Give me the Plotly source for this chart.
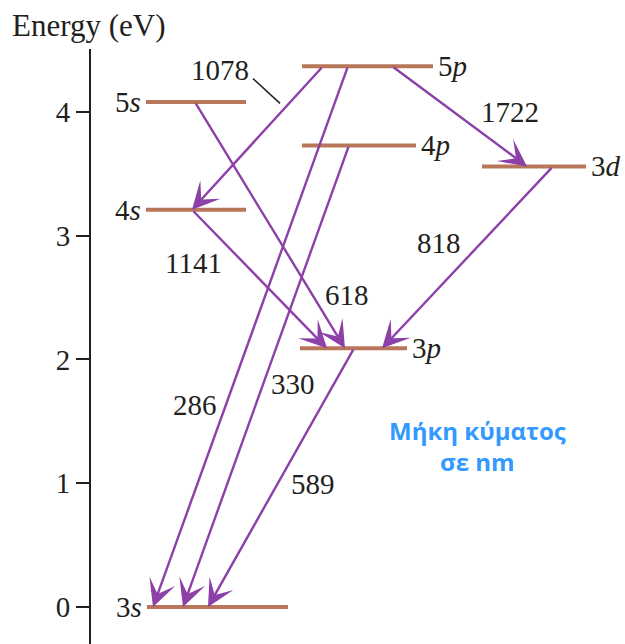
import plotly.graph_objects as go

# Sodium energy levels (eV)
level_names = ["3s", "3p", "4s", "5s", "4p", "3d", "5p"]
level_energy = [0.00, 2.09, 3.21, 4.08, 3.73, 3.56, 4.37]

# Transitions: upper level, lower level, wavelength (nm)
trans_upper = ["5p", "5p", "4p", "5p", "3d", "5s", "4s", "3p"]
trans_lower = ["4s", "3s", "3s", "3d", "3p", "3p", "3p", "3s"]
trans_wavelength = ["1078", "286", "330", "1722", "818", "618", "1141", "589"]

energy_ticks = [0, 1, 2, 3, 4]

# ---- drawing layout (horizontal positions in plot units, styles) ----
level_span = {
    "3s": (147, 288, "left"),
    "3p": (300, 407, "right"),
    "4s": (146, 246, "left"),
    "5s": (146, 246, "left"),
    "4p": (302, 416, "right"),
    "3d": (482, 586, "right"),
    "5p": (302, 433, "right"),
}
# x where each arrow leaves the upper level and lands on the lower level
arrow_x = [(323, 192), (348, 153), (349, 183), (392, 527),
           (553, 382), (195, 345), (192, 327), (354, 208)]
# wavelength label positions (x, energy)
label_pos = [(220, 4.34), (195, 1.63), (293, 1.80), (510, 4.00),
             (439, 2.94), (347, 2.52), (193, 2.78), (313, 0.99)]

LEVEL_COLOR = "#b8765a"
ARROW_COLOR = "#8c40a8"
INK = "#231f20"
SERIF = "Liberation Serif, Times New Roman, serif"

E = dict(zip(level_names, level_energy))

fig = go.Figure()

# horizontal level bars
for name in level_names:
    x0, x1, _ = level_span[name]
    fig.add_trace(go.Scatter(
        x=[x0, x1], y=[E[name], E[name]], mode="lines",
        line=dict(color=LEVEL_COLOR, width=4), hoverinfo="skip",
        showlegend=False))

annotations = []

# level names, n in roman, l in italics
for name in level_names:
    x0, x1, side = level_span[name]
    txt = f"{name[0]}<i>{name[1]}</i>"
    if side == "left":
        annotations.append(dict(x=x0 - 3, y=E[name], text=txt, xanchor="right",
                                yanchor="middle", showarrow=False,
                                font=dict(family=SERIF, size=29, color=INK)))
    else:
        annotations.append(dict(x=x1 + 3, y=E[name], text=txt, xanchor="left",
                                yanchor="middle", showarrow=False,
                                font=dict(family=SERIF, size=29, color=INK)))

# transition arrows
for up, lo, (xs, xe) in zip(trans_upper, trans_lower, arrow_x):
    annotations.append(dict(
        x=xe, y=E[lo], ax=xs, ay=E[up], xref="x", yref="y",
        axref="x", ayref="y", text="", showarrow=True,
        arrowhead=3, arrowsize=1.9, arrowwidth=2.4,
        arrowcolor=ARROW_COLOR, standoff=0, startstandoff=0))

# wavelength labels
for wl, (lx, ly) in zip(trans_wavelength, label_pos):
    annotations.append(dict(x=lx, y=ly, text=wl, showarrow=False,
                            xanchor="center", yanchor="middle",
                            font=dict(family=SERIF, size=29, color=INK)))

# axis title, placed above the energy axis
annotations.append(dict(x=-0.152, y=1.040, xref="paper", yref="paper",
                        text="Energy (eV)", showarrow=False,
                        xanchor="left", yanchor="middle",
                        font=dict(family=SERIF, size=31, color=INK)))

# note on the units of the labels
annotations.append(dict(x=477, y=1.30, text="<b>Μήκη κύματος<br>σε nm</b>",
                        showarrow=False, xanchor="center", yanchor="middle",
                        align="center",
                        font=dict(family="Open Sans, sans-serif", size=24,
                                  color="#3399ff")))

# leader line for the 1078 label
shapes = [dict(type="line", x0=253, y0=4.27, x1=280, y1=4.07,
               xref="x", yref="y", line=dict(color=INK, width=1.5))]

fig.update_layout(
    width=625, height=644,
    margin=dict(l=91, r=0, t=49, b=0),
    paper_bgcolor="white", plot_bgcolor="white",
    annotations=annotations, shapes=shapes,
    xaxis=dict(range=[91, 625], visible=False, fixedrange=True),
    yaxis=dict(range=[-0.299, 4.509], tickvals=energy_ticks,
               ticks="outside", ticklen=13, tickwidth=2, tickcolor=INK,
               showline=True, linewidth=2, linecolor=INK,
               showgrid=False, zeroline=False, ticklabelstandoff=0,
               tickfont=dict(family=SERIF, size=29, color=INK),
               fixedrange=True),
    showlegend=False,
)

fig.write_html("out.html")
